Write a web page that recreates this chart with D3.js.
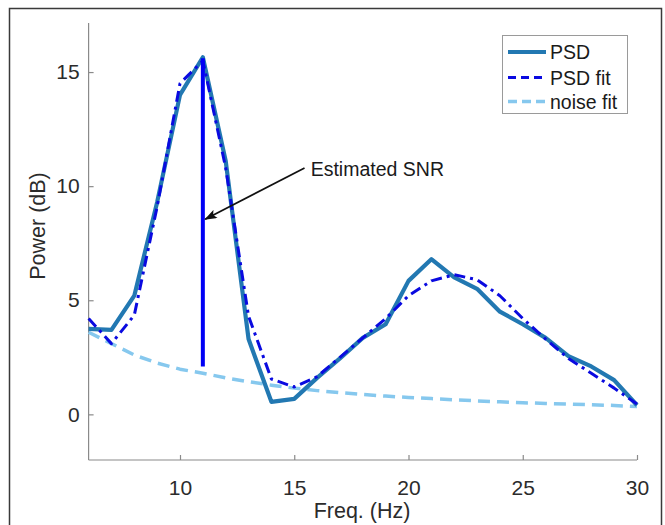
<!DOCTYPE html>
<html>
<head>
<meta charset="utf-8">
<script src="https://cdn.jsdelivr.net/npm/d3@7"></script>
<style>
  html, body { margin: 0; padding: 0; background: #fff; }
  svg { display: block; font-family: "Liberation Sans", Arial, Helvetica, sans-serif; }
</style>
</head>
<body>
<svg id="chart" width="665" height="525"></svg>
<script>
// ---------- data ----------
const freqs    = [6,7,8,9,10,11,12,13,14,15,16,17,18,19,20,21,22,23,24,25,26,27,28,29,30];
const psd      = [3.75,3.7,5.2,9.3,14.0,15.65,11.1,3.3,0.55,0.68,1.6,2.45,3.35,3.95,5.85,6.8,6.0,5.5,4.5,3.95,3.35,2.55,2.1,1.5,0.4];
const psdFit   = [4.2,3.1,4.35,9.1,14.5,15.5,10.8,4.3,1.55,1.2,1.65,2.5,3.35,4.2,5.2,5.85,6.12,5.9,5.2,4.2,3.3,2.45,1.8,1.15,0.45];
const noiseFit = [3.6,3.1,2.6,2.25,1.98,1.8,1.6,1.43,1.28,1.15,1.04,0.95,0.87,0.8,0.74,0.69,0.64,0.59,0.55,0.51,0.48,0.45,0.42,0.39,0.34];
const xTicks = [10,15,20,25,30];
const yTicks = [0,5,10,15];
const snrLine = [{f: 11, v: 2.1}, {f: 11, v: 15.6}];
const annotation = {text: "Estimated SNR", tipF: 11.1, tipV: 8.55, tailF: 15.45, tailV: 10.8, textF: 15.72, textV: 10.75};
const legendLabels = ["PSD", "PSD fit", "noise fit"];
const xLabel = "Freq. (Hz)";
const yLabel = "Power (dB)";

// ---------- layout ----------
const svg = d3.select("#chart");
const x = d3.scaleLinear().domain([6, 30]).range([88.6, 637]);
const y = d3.scaleLinear().domain([-2, 17.15]).range([460, 23]);

const axisColor = "#8a8a8a";
const textColor = "#2b2b2b";

// outer frame
svg.append("rect").attr("x", 9.5).attr("y", 8.5).attr("width", 652).attr("height", 540)
  .attr("fill", "none").attr("stroke", "#3a3a3a").attr("stroke-width", 1.5);

// axes
const xAxis = svg.append("g").attr("transform", `translate(0,${y(-2)})`)
  .call(d3.axisBottom(x).tickValues(xTicks).tickSize(-5).tickPadding(20).tickFormat(d3.format("d")));
const yAxis = svg.append("g").attr("transform", `translate(${x(6)},0)`)
  .call(d3.axisLeft(y).tickValues(yTicks).tickSize(-5).tickPadding(9).tickFormat(d3.format("d")));
[xAxis, yAxis].forEach(g => {
  g.select(".domain").attr("stroke", axisColor).attr("stroke-width", 1.2);
  g.selectAll(".tick line").attr("stroke", axisColor).attr("stroke-width", 1.2);
  g.selectAll(".tick text").attr("fill", textColor).style("font-size", "21px")
    .style("font-family", "'Liberation Sans', Arial, sans-serif");
});
xAxis.select(".domain").attr("d", `M${x(6)},0H${x(30)}`);
yAxis.select(".domain").attr("d", `M0,${y(-2)}V${y(17.15)}`);

// axis labels
svg.append("text").attr("x", 362).attr("y", 518).attr("text-anchor", "middle")
  .attr("fill", textColor).style("font-size", "21.5px").text(xLabel);
svg.append("text").attr("transform", "translate(45,226) rotate(-90)").attr("text-anchor", "middle")
  .attr("fill", textColor).style("font-size", "21.5px").text(yLabel);

// ---------- series ----------
const line = d3.line().x((d, i) => x(freqs[i])).y(d => y(d)).curve(d3.curveLinear);
const styles = [
  {data: noiseFit, color: "#86c8ee", width: 3.5, dash: "12,7"},
  {data: psd,      color: "#2278b2", width: 4.2, dash: null},
  {data: psdFit,   color: "#0a0ae0", width: 3,   dash: "11,5,3,5"}
];
styles.forEach(s => {
  svg.append("path").datum(s.data).attr("d", line)
    .attr("fill", "none").attr("stroke", s.color).attr("stroke-width", s.width)
    .attr("stroke-linejoin", "round")
    .attr("stroke-dasharray", s.dash);
});

// SNR vertical line
svg.append("path").datum(snrLine)
  .attr("d", d3.line().x(d => x(d.f)).y(d => y(d.v)))
  .attr("stroke", "#0000f5").attr("stroke-width", 4).attr("fill", "none");

// annotation arrow
const defs = svg.append("defs");
defs.append("marker").attr("id", "arrow").attr("viewBox", "0 0 14 10")
  .attr("refX", 13).attr("refY", 5).attr("markerWidth", 14).attr("markerHeight", 9)
  .attr("orient", "auto").attr("markerUnits", "userSpaceOnUse")
  .append("path").attr("d", "M0,0 L14,5 L0,10 L3,5 Z").attr("fill", "#111");
svg.append("line")
  .attr("x1", x(annotation.tailF)).attr("y1", y(annotation.tailV))
  .attr("x2", x(annotation.tipF)).attr("y2", y(annotation.tipV))
  .attr("stroke", "#111").attr("stroke-width", 1.7)
  .attr("marker-end", "url(#arrow)");
svg.append("text").attr("x", x(annotation.textF)).attr("y", y(annotation.textV))
  .attr("dy", "0.35em").attr("fill", "#1a1a1a").style("font-size", "19.5px").text(annotation.text);

// ---------- legend ----------
const lg = svg.append("g");
lg.append("rect").attr("x", 502.5).attr("y", 35.5).attr("width", 125).attr("height", 78)
  .attr("fill", "#fff").attr("stroke", "#9a9a9a").attr("stroke-width", 1);
const rowsY = [52, 77.5, 101.5];
legendLabels.forEach((lab, i) => {
  const s = [styles[1], styles[2], styles[0]][i];
  lg.append("line").attr("x1", 508).attr("x2", 546).attr("y1", rowsY[i]).attr("y2", rowsY[i])
    .attr("stroke", s.color).attr("stroke-width", s.width)
    .attr("stroke-dasharray", i === 0 ? null : (i === 1 ? "8,5" : "9,5"));
  lg.append("text").attr("x", 550).attr("y", rowsY[i]).attr("dy", "0.36em")
    .attr("fill", "#1a1a1a").style("font-size", "19.5px").text(lab);
});
</script>
</body>
</html>
